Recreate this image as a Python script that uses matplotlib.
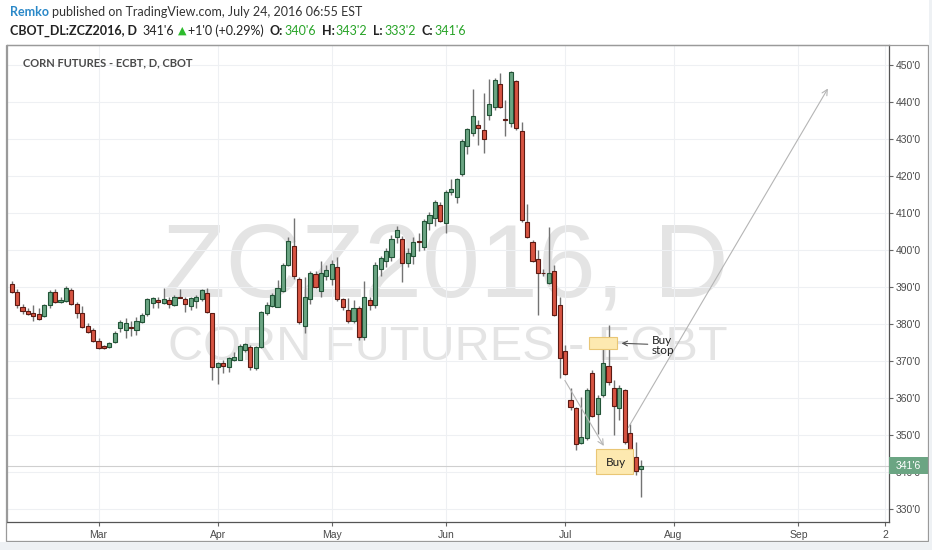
import matplotlib
matplotlib.use("Agg")
import matplotlib.pyplot as plt
import matplotlib.transforms as mtransforms
from matplotlib.patches import Rectangle
import numpy as np
import pandas as pd

# ---- data ----
start_date = "2016-02-05"
holidays = ["2016-02-15", "2016-03-25", "2016-05-30", "2016-07-04", "2016-09-05"]

opens = [390.7, 388.6, 384.6, 383.5, 383.0, 382.6, 382.3, 385.1, 388.7, 386.0,
         386.2, 389.2, 385.4, 382.9, 379.5, 378.4, 375.4, 374.0, 373.9, 375.2,
         378.8, 378.4, 379.3, 378.4, 380.6, 382.6, 385.6, 386.5, 385.8, 386.5,
         385.1, 387.4, 386.8, 384.9, 386.3, 386.7, 388.3, 382.9, 368.3, 369.4,
         368.5, 370.4, 370.4, 373.0, 373.9, 368.0, 373.9, 382.9, 384.9, 384.7,
         389.0, 395.9, 401.1, 392.1, 379.4, 386.7, 393.5, 389.0, 393.0, 392.3,
         395.5, 386.7, 383.8, 380.9, 384.2, 376.4, 386.6, 385.1, 394.8, 396.9,
         398.2, 403.4, 403.1, 396.6, 398.4, 402.3, 400.9, 407.2, 408.6, 412.2,
         407.2, 415.7, 414.4, 420.5, 428.1, 431.7, 433.8, 432.4, 436.5, 438.7,
         444.9, 435.5, 434.2, 445.8, 432.2, 407.7, 402.2, 397.5, 393.9, 391.2,
         394.4, 385.1, 372.8, 359.6, 357.2, 347.9, 349.1, 366.7, 355.8, 360.8,
         368.6, 362.6, 357.2, 362.2, 350.6, 344.0, 340.75]
highs = [391.6, 389.4, 385.3, 384.2, 385.1, 384.2, 385.3, 389.2, 389.5, 387.4,
         390.3, 389.6, 386.0, 384.9, 380.2, 379.0, 376.1, 374.2, 375.2, 378.1,
         381.1, 381.7, 380.8, 382.0, 383.1, 387.1, 387.3, 387.4, 389.6, 387.4,
         387.8, 389.4, 387.4, 387.4, 387.8, 389.4, 389.6, 383.0, 369.8, 370.3,
         371.2, 372.5, 374.6, 375.0, 374.3, 374.0, 383.6, 386.0, 388.5, 391.9,
         396.4, 403.4, 408.6, 392.8, 392.6, 394.4, 394.4, 397.1, 395.9, 397.3,
         398.0, 386.9, 386.9, 386.4, 385.0, 391.7, 387.4, 396.8, 398.5, 400.5,
         404.0, 406.5, 403.8, 400.5, 403.5, 404.5, 408.5, 410.2, 413.5, 413.0,
         416.3, 419.3, 419.5, 429.9, 433.0, 443.4, 435.1, 442.3, 446.1, 446.4,
         447.7, 440.5, 448.5, 446.0, 434.7, 412.4, 402.7, 400.0, 395.0, 406.3,
         395.9, 387.4, 374.3, 362.6, 357.7, 360.4, 362.6, 367.6, 360.8, 375.2,
         379.7, 364.9, 363.5, 362.4, 353.1, 348.2, 343.25]
lows = [388.5, 384.2, 382.6, 382.4, 380.8, 381.1, 382.0, 384.2, 385.6, 385.6,
        386.0, 385.1, 381.7, 379.0, 377.7, 375.2, 373.2, 373.2, 373.6, 374.9,
        377.9, 376.3, 376.8, 377.0, 380.2, 382.3, 384.4, 384.4, 385.4, 384.2,
        384.9, 386.9, 383.3, 383.8, 384.2, 386.3, 383.0, 364.9, 363.8, 366.7,
        367.1, 370.1, 370.3, 372.5, 367.7, 367.7, 373.4, 382.4, 384.5, 384.5,
        388.7, 395.7, 392.1, 380.0, 377.5, 385.4, 389.6, 387.2, 391.9, 390.5,
        386.3, 383.8, 380.2, 380.2, 375.7, 375.7, 383.8, 384.2, 393.0, 395.3,
        397.0, 402.0, 391.4, 395.4, 396.2, 399.6, 400.0, 405.3, 406.5, 407.5,
        404.5, 415.0, 412.7, 420.0, 426.0, 430.8, 428.4, 426.3, 435.1, 437.8,
        438.3, 430.8, 433.3, 432.4, 407.6, 403.2, 396.8, 382.4, 393.0, 390.8,
        382.2, 365.3, 366.2, 356.8, 346.0, 347.7, 348.6, 354.9, 350.4, 360.3,
        363.5, 350.0, 354.0, 347.7, 343.2, 339.2, 333.25]
closes = [388.7, 385.1, 383.5, 382.8, 382.3, 381.3, 385.1, 388.6, 386.0, 386.4,
          389.6, 385.4, 383.1, 379.3, 377.9, 375.4, 373.4, 373.6, 374.9, 377.5,
          380.6, 380.2, 378.8, 380.8, 382.4, 386.8, 386.9, 386.0, 386.8, 385.4,
          387.4, 386.9, 385.4, 386.9, 387.2, 389.2, 383.3, 368.3, 369.5, 368.6,
          370.7, 371.2, 374.0, 374.5, 368.3, 373.9, 383.3, 385.1, 387.8, 389.6,
          395.9, 402.3, 393.0, 380.6, 387.4, 393.9, 389.9, 393.9, 394.6, 396.2,
          386.7, 384.5, 380.9, 384.2, 376.4, 387.4, 385.1, 395.9, 397.8, 399.6,
          403.1, 405.4, 396.6, 399.3, 402.2, 402.1, 407.9, 409.4, 413.1, 407.9,
          415.8, 416.4, 419.1, 429.5, 432.6, 436.2, 432.9, 429.9, 439.5, 445.9,
          438.7, 435.2, 448.2, 432.9, 408.1, 403.4, 397.1, 393.9, 393.7, 393.9,
          382.4, 370.7, 366.5, 357.5, 347.7, 349.5, 362.2, 355.1, 359.9, 369.6,
          364.4, 357.8, 362.6, 348.2, 344.0, 340.4, 341.75]

month_ticks = ["2016-03-01", "2016-04-01", "2016-05-02", "2016-06-01",
               "2016-07-01", "2016-08-01", "2016-09-01", "2016-09-26"]
month_labels = ["Mar", "Apr", "May", "Jun", "Jul", "Aug", "Sep", "2"]
price_ticks = list(range(330, 451, 10))
last_price = 341.75


def fmt_price(p):
    whole = int(p)
    eighths = int(round((p - whole) * 8))
    return f"{whole}'{eighths}"


W, H = 932, 550
fig = plt.figure(figsize=(W / 100, H / 100), dpi=100, facecolor="white")

# plot area in pixels: x 6.7..889, y 45..522
ax = fig.add_axes([6.7 / W, (H - 522) / H, (889 - 6.7) / W, (522 - 45) / H])
ax.set_facecolor("white")

days = pd.bdate_range(start_date, "2016-10-31", freq="C", holidays=holidays)
x = np.arange(len(opens))
o = np.array(opens)
c = np.array(closes)
hi = np.array(highs)
lo = np.array(lows)

ax.set_xlim(-0.92, 161.7)
ax.set_ylim(326.5, 455.4)

# watermark
ax.text(0.497, (522 - 297) / 477, "ZCZ2016, D", transform=ax.transAxes,
        ha="center", va="baseline", fontsize=75, color="#e4e4e4", zorder=0,
        family="Liberation Sans")
ax.text(0.5, (522 - 360) / 477, "CORN FUTURES - ECBT", transform=ax.transAxes,
        ha="center", va="baseline", fontsize=35, color="#e4e4e4", zorder=0,
        family="Liberation Sans")

# candles
up = c >= o
body_lo = np.minimum(o, c)
body_h = np.maximum(np.abs(c - o), 0.2)
ax.vlines(x, lo, hi, color="#737373", lw=1, zorder=2)
ax.bar(x[up], body_h[up], bottom=body_lo[up], width=0.76, color="#6ba583",
       edgecolor="#225437", lw=0.8, zorder=3)
ax.bar(x[~up], body_h[~up], bottom=body_lo[~up], width=0.76, color="#d75442",
       edgecolor="#5b1a13", lw=0.8, zorder=3)

# last price line
ax.axhline(last_price, color="#cfcfcf", lw=0.8, zorder=1)

# drawings
ax.annotate("", xy=(150.7, 444.3), xytext=(113.4, 351.4),
            arrowprops=dict(arrowstyle="->", color="#b5b5b5", lw=0.8), zorder=4)
ax.annotate("", xy=(109.4, 346.4), xytext=(101.7, 365.4),
            arrowprops=dict(arrowstyle="->", color="#b5b5b5", lw=0.8), zorder=4)
ax.add_patch(Rectangle((106.4, 373.2), 5.2, 3.2, fc="#fde9b0", ec="#e9c675",
                       lw=0.8, zorder=5))
ax.add_patch(Rectangle((107.7, 339.6), 6.9, 6.5, fc="#fde9b0", ec="#e9c675",
                       lw=0.8, zorder=5))
ax.text(111.3, 342.5, "Buy", ha="center", va="center", fontsize=8.5,
        color="#222222", family="Lato", zorder=6)
ax.annotate("Buy\nstop", xy=(112.4, 374.8), xytext=(118.0, 374.2),
            ha="left", va="center", fontsize=8.5, color="#222222",
            family="Lato", linespacing=0.95, zorder=6,
            arrowprops=dict(arrowstyle="->", color="#555555", lw=0.8,
                            shrinkA=1, shrinkB=0,
                            connectionstyle="arc3,rad=0", relpos=(0, 0.55)))

# grid / axes
ax.set_yticks(price_ticks)
ax.set_yticklabels([f"{v}'0" for v in price_ticks])
ax.yaxis.tick_right()
ax.set_xticks(days.get_indexer(pd.to_datetime(month_ticks)))
ax.set_xticklabels(month_labels)
ax.grid(color="#eef0f3", lw=0.8, zorder=0)
ax.set_axisbelow(True)
ax.tick_params(axis="y", right=True, length=3, pad=2, labelsize=7.5,
               labelcolor="#4a4a4a", color="#666666")
ax.tick_params(axis="x", length=3, pad=3, labelsize=7.5, labelcolor="#4a4a4a",
               color="#666666")
for lab in ax.get_xticklabels() + ax.get_yticklabels():
    lab.set_family("Liberation Sans")
for side in ["top", "left"]:
    ax.spines[side].set_color("#9a9a9a")
for side in ["right", "bottom"]:
    ax.spines[side].set_color("#555555")
for sp in ax.spines.values():
    sp.set_linewidth(0.9)

# last price tag on the price scale
blend = mtransforms.blended_transform_factory(ax.transAxes, ax.transData)
ax.add_patch(Rectangle((1.0, last_price - 2.3), 39 / 882.3, 4.6, transform=blend,
                       fc="#6ba583", ec="none", clip_on=False, zorder=6))
ax.text(1.0 + 19.5 / 882.3, last_price, fmt_price(last_price), transform=blend,
        ha="center", va="center", fontsize=7.5, color="white",
        family="Liberation Sans", zorder=7, clip_on=False)

# chart title
ax.text(16 / 882.3, 1 - 18 / 477, "CORN FUTURES - ECBT, D, CBOT",
        transform=ax.transAxes, ha="left", va="center", fontsize=8,
        fontweight="bold", color="#4a4a4a", family="Lato")

# outer frame and page strips
fig.patches.append(Rectangle((6 / W, (H - 541) / H), 922 / W, 496 / H,
                             transform=fig.transFigure, fill=False,
                             ec="#9a9a9a", lw=0.9))
fig.patches.append(Rectangle((0, 0), 1, (H - 541.5) / H, transform=fig.transFigure,
                             fc="#eef1f4", ec="none"))
fig.patches.append(Rectangle((928.5 / W, 0), 1, 1, transform=fig.transFigure,
                             fc="#eef1f4", ec="none"))

# header lines
renderer = fig.canvas.get_renderer()


def put(px, py, s, **kw):
    t = fig.text(px / W, 1 - py / H, s, ha="left", va="center", **kw)
    return t.get_window_extent(renderer).x1


green = "#27a327"
xx = put(10, 12, "Remko", fontsize=9, color="#2a88c8", family="Lato", fontweight="bold")
put(xx + 3, 12, "published on TradingView.com, July 24, 2016 06:55 EST",
    fontsize=9, color="#333333", family="Lato")

xx = put(10, 31, "CBOT_DL:ZCZ2016, D", fontsize=9, fontweight="bold",
         color="#222222", family="Lato")
xx = put(xx + 5, 31, fmt_price(last_price), fontsize=9, color="#222222", family="Lato")
xx = put(xx + 4, 31, "\u25b2", fontsize=8, color="#2dbb2d", family="DejaVu Sans")
xx = put(xx + 2, 31, "+1'0 (+0.29%)", fontsize=9, color="#222222", family="Lato")
for key, val in [("O:", 340.75), ("H:", 343.25), ("L:", 333.25), ("C:", 341.75)]:
    xx = put(xx + 6, 31, key, fontsize=9, fontweight="bold", color="#222222", family="Lato")
    xx = put(xx + 1, 31, fmt_price(val), fontsize=9, color=green, family="Lato")

fig.savefig("out.png", dpi=100, facecolor=fig.get_facecolor())
